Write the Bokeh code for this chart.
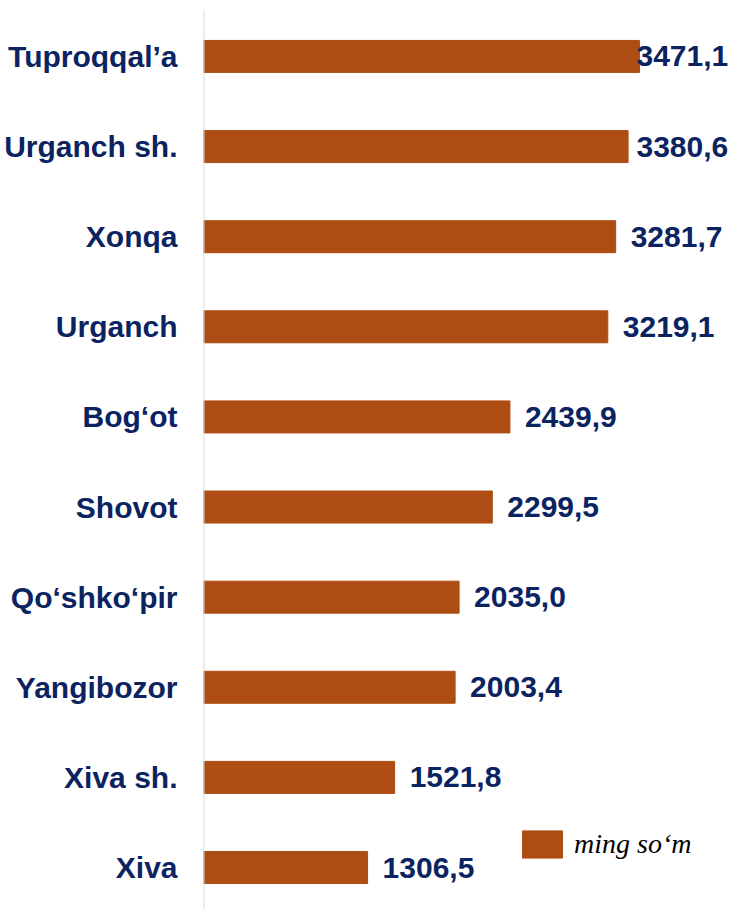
import numpy as np
from bokeh.plotting import figure
from bokeh.models import (ColumnDataSource, Range1d, Legend, LegendItem, Span,
                          LabelSet, FixedTicker)
from bokeh.core.properties import value
from bokeh.embed import file_html
from bokeh.resources import INLINE

categories = ["Tuproqqal\u2019a", "Urganch sh.", "Xonqa", "Urganch", "Bog\u2018ot",
              "Shovot", "Qo\u2018shko\u2018pir", "Yangibozor", "Xiva sh.", "Xiva"]
values = [3471.1, 3380.6, 3281.7, 3219.1, 2439.9, 2299.5, 2035.0, 2003.4, 1521.8, 1306.5]
value_labels = ["3471,1", "3380,6", "3281,7", "3219,1", "2439,9",
                "2299,5", "2035,0", "2003,4", "1521,8", "1306,5"]
series_name = "ming so\u2018m"

BAR = "#AD4D13"
NAVY = "#0B2461"

W, H = 730, 909
LEFT, TOP = 203, 10
X_MAX = 4196
px_per_unit = (W - LEFT) / X_MAX

n = len(categories)
pos = np.arange(n)[::-1].astype(float)          # top category drawn highest
vals = np.array(values)
pad_units = 15 / px_per_unit
label_w_units = 94 / px_per_unit
label_x = np.minimum(vals + pad_units, X_MAX - label_w_units)

src = ColumnDataSource(dict(pos=pos, val=vals, lab=value_labels, lx=label_x))

p = figure(width=W, height=H, output_backend="svg", toolbar_location=None,
           x_range=Range1d(0, X_MAX), y_range=Range1d(-0.466, 9.51),
           min_border_left=LEFT, min_border_right=0, min_border_top=TOP, min_border_bottom=0)
p.outline_line_color = None
p.grid.visible = False
p.xaxis.visible = False
p.background_fill_color = "white"
p.border_fill_color = "white"

bars = p.hbar(y="pos", right="val", left=0, height=0.355, source=src,
              fill_color=BAR, line_color=BAR)

labels = LabelSet(x="lx", y="pos", text="lab", source=src, text_align="left",
                  text_baseline="middle", text_font=value("Liberation Sans"),
                  text_font_style="bold", text_font_size="30px", text_color=NAVY)
p.add_layout(labels)

yax = p.yaxis[0]
yax.ticker = FixedTicker(ticks=list(pos))
yax.major_label_overrides = {float(k): c for k, c in zip(pos, categories)}
yax.axis_line_color = None
yax.major_tick_line_color = None
yax.major_tick_out = 0
yax.major_tick_in = 0
yax.minor_tick_line_color = None
yax.major_label_standoff = 26
yax.major_label_text_font = "Liberation Sans"
yax.major_label_text_font_style = "bold"
yax.major_label_text_font_size = "30px"
yax.major_label_text_color = NAVY

p.add_layout(Span(location=0, dimension="height", line_color="#D9D9D9", line_width=2))

legend = Legend(items=[LegendItem(label=series_name, renderers=[bars])],
                location=(314, 48), glyph_width=50, glyph_height=34, label_height=34,
                label_standoff=7, padding=0, margin=0, border_line_color=None,
                background_fill_alpha=0, label_text_font="Liberation Serif",
                label_text_font_style="italic", label_text_font_size="28px",
                label_text_color="black")
p.add_layout(legend)

open("out.html", "w").write(file_html(p, INLINE))
